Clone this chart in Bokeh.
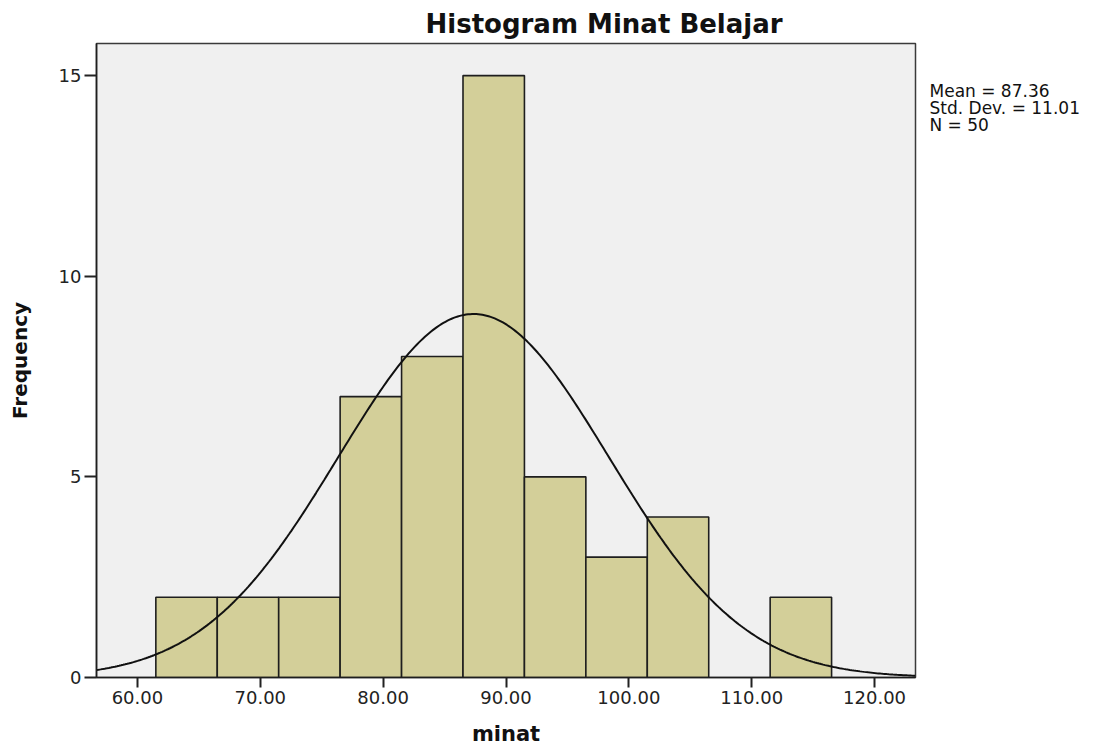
import numpy as np
from bokeh.plotting import figure
from bokeh.layouts import row
from bokeh.models import Range1d, FixedTicker, NumeralTickFormatter, ColumnDataSource
from bokeh.core.properties import value
from bokeh.embed import file_html
from bokeh.resources import INLINE

# ---- data ----
bin_left = [61.5, 66.5, 71.5, 76.5, 81.5, 86.5, 91.5, 96.5, 101.5, 106.5, 111.5]
bin_right = [66.5, 71.5, 76.5, 81.5, 86.5, 91.5, 96.5, 101.5, 106.5, 111.5, 116.5]
counts = [2, 2, 2, 7, 8, 15, 5, 3, 4, 0, 2]
mean_val = 87.36
std_val = 11.01
n_val = 50
bin_width = 5.0
x_ticks = [60, 70, 80, 90, 100, 110, 120]
y_ticks = [0, 5, 10, 15]

X0, X1 = 56.67, 123.33
Y0, Y1 = 0.0, 15.8
FW, FH = 819, 634
TOP, BOTTOM = 43, 71

FONT = "DejaVu Sans"

p = figure(
    frame_width=FW, frame_height=FH,
    x_range=Range1d(X0, X1), y_range=Range1d(Y0, Y1),
    output_backend="svg", toolbar_location=None,
    min_border_left=96, min_border_right=2, min_border_top=TOP, min_border_bottom=BOTTOM,
    background_fill_color="#F0F0F0", border_fill_color="white",
    title="Histogram Minat Belajar",
)
p.outline_line_color = "#3a3a3a"
p.outline_line_width = 1.5
p.xgrid.visible = False
p.ygrid.visible = False

# title
p.title.align = "left"
p.title.offset = 329
p.title.standoff = 10
p.title.text_font = FONT
p.title.text_font_size = "26px"
p.title.text_font_style = "bold"
p.title.text_color = "#111111"

# bars
src = ColumnDataSource(dict(
    left=[l for l, c in zip(bin_left, counts) if c > 0],
    right=[r for r, c in zip(bin_right, counts) if c > 0],
    top=[c for c in counts if c > 0],
))
p.quad(left="left", right="right", bottom=0, top="top", source=src,
       fill_color="#D3CF99", line_color="#1e1e1e", line_width=1.6)

# normal curve from the stated mean / std / N
xs = np.linspace(X0, X1, 400)
ys = n_val * bin_width * np.exp(-0.5 * ((xs - mean_val) / std_val) ** 2) / (std_val * np.sqrt(2 * np.pi))
p.line(xs, ys, line_color="#111111", line_width=2)

# axes
for ax in (p.xaxis[0], p.yaxis[0]):
    ax.minor_tick_line_color = None
    ax.major_tick_in = 0
    ax.major_tick_line_width = 2
    ax.major_tick_line_color = "#222222"
    ax.axis_line_color = "#1e1e1e"
    ax.axis_line_width = 1.6
    ax.major_label_text_font = FONT
    ax.major_label_text_font_size = "18px"
    ax.major_label_text_color = "#222222"
    ax.axis_label_text_font = FONT
    ax.axis_label_text_font_style = "bold"
    ax.axis_label_text_color = "#111111"

p.xaxis.ticker = FixedTicker(ticks=x_ticks)
p.xaxis.formatter = NumeralTickFormatter(format="0.00")
p.xaxis.major_tick_out = 10
p.xaxis.major_label_standoff = 3
p.xaxis.axis_label = "minat"
p.xaxis.axis_label_text_font_size = "21px"
p.xaxis.axis_label_standoff = 15

p.yaxis.ticker = FixedTicker(ticks=y_ticks)
p.yaxis.major_tick_out = 12
p.yaxis.major_label_standoff = 3
p.yaxis.axis_label = "Frequency"
p.yaxis.axis_label_text_font_size = "20px"
p.yaxis.axis_label_standoff = 24

# stats text panel to the right of the plot (pixel-like coordinates, y downward,
# frame aligned with the main frame)
SW = 184
s = figure(
    frame_width=SW, frame_height=FH,
    x_range=Range1d(0, SW), y_range=Range1d(TOP + FH, TOP),
    output_backend="svg", toolbar_location=None,
    x_axis_location=None, y_axis_location=None,
    min_border_left=0, min_border_right=0, min_border_top=TOP, min_border_bottom=BOTTOM,
    outline_line_color=None,
    background_fill_color="white", border_fill_color="white",
)
s.xgrid.visible = False
s.ygrid.visible = False
stat_lines = [f"Mean = {mean_val:.2f}", f"Std. Dev. = {std_val:.2f}", f"N = {n_val}"]
s.text(x=[12, 12, 12], y=[90, 107, 124], text=stat_lines,
       text_font=value(FONT), text_font_size="17px",
       text_baseline="alphabetic", text_align="left", text_color="#111111")

layout = row(p, s, spacing=0)
open("out.html", "w").write(file_html(layout, INLINE))
